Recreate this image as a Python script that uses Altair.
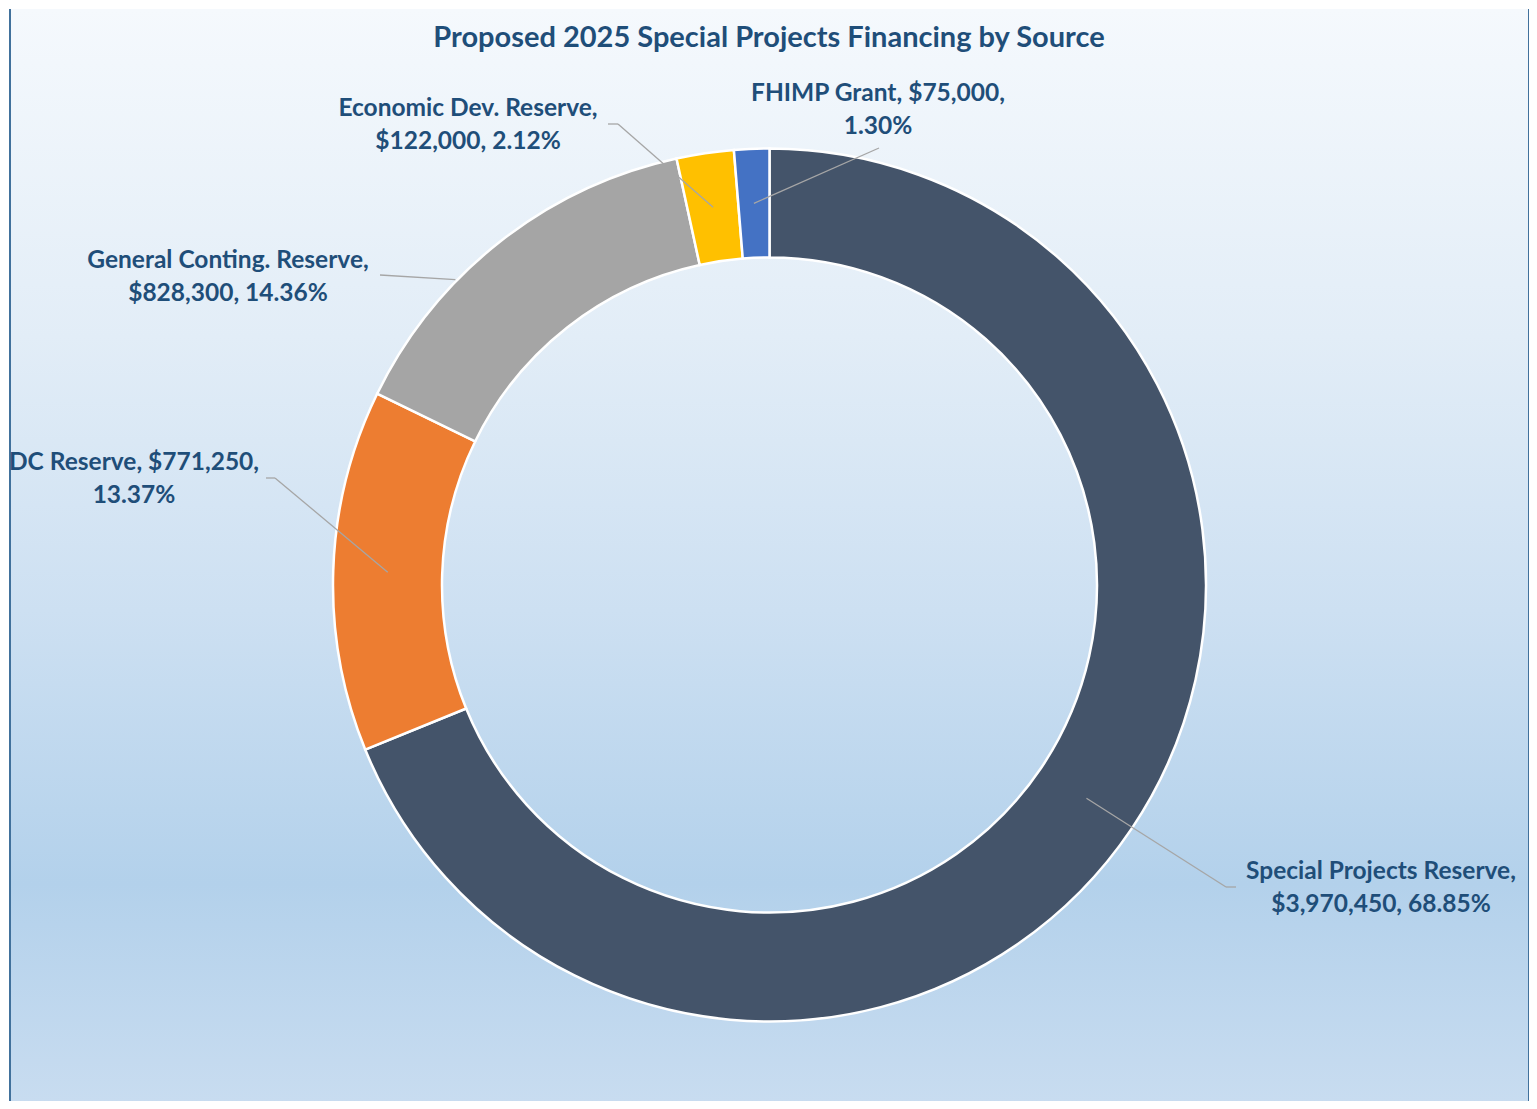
import math
import altair as alt
import pandas as pd

# ---- data ----
categories = ["Special Projects Reserve", "DC Reserve", "General Conting. Reserve",
              "Economic Dev. Reserve", "FHIMP Grant"]
amounts = [3970450, 771250, 828300, 122000, 75000]
colors = ["#44546a", "#ed7d31", "#a5a5a5", "#ffc000", "#4472c4"]
title_text = "Proposed 2025 Special Projects Financing by Source"

# ---- layout (chart pixel coordinates) ----
W, H = 1521, 1093
CX, CY = 760.5, 576.0
R_OUT, R_IN = 436.5, 327.5
label_x = [1372, 125, 219, 459, 869]
label_y = [863, 454, 252, 100, 85]
line_gap = 33
break_after = [1, 2, 1, 1, 2]          # parts on first label line
leader_start = [(1227, 878), (257, 469), (371, 266), (599, 115), (870, 139)]
leader_elbow = [(1217, 878), (266, 469), None, (609, 115), None]
leader_stop_outer = [False, False, True, False, False]

total = sum(amounts)
rows, text_rows, seg_rows = [], [], []
cum = 0.0
for i, (cat, amt) in enumerate(zip(categories, amounts)):
    pct = amt / total * 100
    rows.append({"cat": cat, "amount": amt, "order": i})
    parts = [cat, f"${amt:,}", f"{pct:.2f}%"]
    l1 = ", ".join(parts[:break_after[i]]) + ","
    l2 = ", ".join(parts[break_after[i]:])
    text_rows.append({"t": l1, "x": label_x[i], "y": label_y[i]})
    text_rows.append({"t": l2, "x": label_x[i], "y": label_y[i] + line_gap})
    mid = (cum + amt / 2) / total * 2 * math.pi
    cum += amt
    rm = (R_OUT + R_IN) / 2
    ex, ey = CX + rm * math.sin(mid), CY - rm * math.cos(mid)
    pts = [leader_start[i]]
    if leader_elbow[i] is not None:
        pts.append(leader_elbow[i])
    if leader_stop_outer[i]:
        sx, sy = pts[-1]
        lo, hi = 0.0, 1.0
        for _ in range(50):
            m = (lo + hi) / 2
            px, py = sx + (ex - sx) * m, sy + (ey - sy) * m
            if math.hypot(px - CX, py - CY) > R_OUT + 1.5:
                lo = m
            else:
                hi = m
        ex, ey = sx + (ex - sx) * lo, sy + (ey - sy) * lo
    pts.append((ex, ey))
    for j in range(len(pts) - 1):
        seg_rows.append({"x": pts[j][0], "y": pts[j][1], "x2": pts[j + 1][0], "y2": pts[j + 1][1]})

df = pd.DataFrame(rows)
tdf = pd.DataFrame(text_rows)
sdf = pd.DataFrame(seg_rows)
one = pd.DataFrame({"a": [0]})

bg = alt.Chart(one).mark_rect(
    color=alt.LinearGradient(
        gradient="linear", x1=0, x2=0, y1=0, y2=1,
        stops=[alt.GradientStop(offset=0, color="#f5f9fd"),
               alt.GradientStop(offset=0.3, color="#e2edf7"),
               alt.GradientStop(offset=0.55, color="#cde0f2"),
               alt.GradientStop(offset=0.8, color="#b3d1eb"),
               alt.GradientStop(offset=1, color="#c8dcf0")]),
    strokeWidth=0,
).encode(x=alt.value(0), x2=alt.value(W), y=alt.value(0), y2=alt.value(H))

border = alt.Chart(pd.DataFrame({"bx": [1, W - 1]})).mark_rule(
    color="#41719c", strokeWidth=2
).encode(x=alt.X("bx:Q", scale=None, axis=None), y=alt.value(0), y2=alt.value(H))

donut = alt.Chart(df).mark_arc(
    outerRadius=R_OUT, innerRadius=R_IN, stroke="white", strokeWidth=2.5
).encode(
    theta=alt.Theta("amount:Q", stack=True),
    order=alt.Order("order:Q"),
    color=alt.Color("cat:N", scale=alt.Scale(domain=categories, range=colors), legend=None),
    x=alt.value(CX), y=alt.value(CY),
)

leaders = alt.Chart(sdf).mark_rule(color="#a6a6a6", strokeWidth=1.3).encode(
    x=alt.X("x:Q", scale=None, axis=None), y=alt.Y("y:Q", scale=None, axis=None),
    x2="x2:Q", y2="y2:Q",
)

labels = alt.Chart(tdf).mark_text(
    font="Lato", fontWeight="bold", fontSize=24.5, color="#1f4e79",
    align="center", baseline="middle",
).encode(
    x=alt.X("x:Q", scale=None, axis=None), y=alt.Y("y:Q", scale=None, axis=None),
    text="t:N",
)

title = alt.Chart(pd.DataFrame({"t": [title_text]})).mark_text(
    font="Lato", fontWeight="bold", fontSize=29, color="#1f4e79",
    align="center", baseline="middle",
).encode(x=alt.value(760), y=alt.value(29), text="t:N")

chart = alt.layer(bg, border, donut, leaders, labels, title).properties(
    width=W, height=H,
    autosize=alt.AutoSizeParams(type="fit", contains="padding"),
    padding=0,
).configure_view(stroke=None).configure(background="#ffffff")

chart.save("out.html", embed_options={"renderer": "svg", "actions": False})
